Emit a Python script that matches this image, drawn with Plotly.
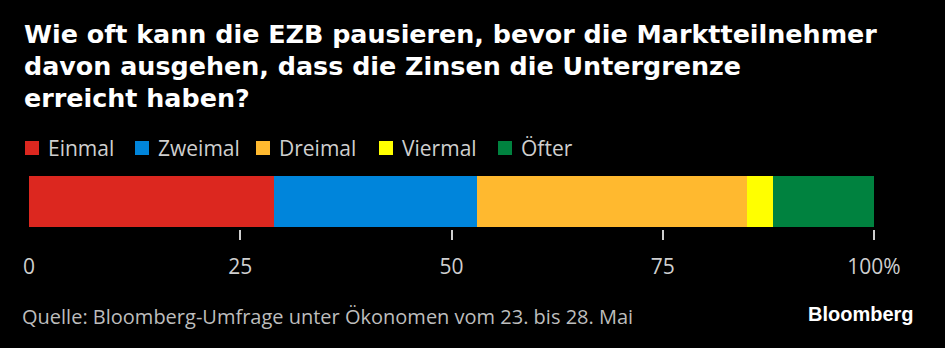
import plotly.graph_objects as go

# Survey answers (share of economists, %)
categories = ["Einmal", "Zweimal", "Dreimal", "Viermal", "Öfter"]
shares = [29, 24, 32, 3, 12]
colors = ["#dc271f", "#0085db", "#ffb92f", "#ffff00", "#00823f"]

tick_values = [0, 25, 50, 75, 100]
tick_labels = ["0", "25", "50", "75", "100%"]

title_lines = [
    "Wie oft kann die EZB pausieren, bevor die Marktteilnehmer",
    "davon ausgehen, dass die Zinsen die Untergrenze",
    "erreicht haben?",
]
source_text = "Quelle: Bloomberg-Umfrage unter Ökonomen vom 23. bis 28. Mai"
brand_text = "Bloomberg"

# Canvas and plot-area geometry (pixels)
W, H = 945, 348
ML, MR, MT, MB = 29, 71, 176, 119
PW, PH = W - ML - MR, H - MT - MB

# Legend item left edges (pixels)
legend_x = [25, 135, 256, 379, 498]
legend_y = 148

FONT = "Open Sans, Noto Sans, sans-serif"
GREY = "#cfcfcf"


def px(x):
    return (x - ML) / PW


def py(y):
    return (H - MB - y) / PH


fig = go.Figure()
for name, val, col in zip(categories, shares, colors):
    fig.add_trace(go.Bar(
        x=[val], y=[""], orientation="h", name=name,
        marker=dict(color=col, line=dict(width=0)),
        width=1, showlegend=False, hoverinfo="x+name",
    ))

fig.update_layout(
    width=W, height=H,
    margin=dict(l=ML, r=MR, t=MT, b=MB, pad=0),
    paper_bgcolor="black", plot_bgcolor="black",
    barmode="stack", bargap=0,
    xaxis=dict(
        range=[0, 100], tickvals=tick_values[1:], ticks="outside",
        ticklen=10, tickwidth=1.5, tickcolor=GREY,
        showticklabels=False, showgrid=False, zeroline=False, showline=False,
        fixedrange=True,
    ),
    xaxis2=dict(
        range=[0, 100], overlaying="x", side="bottom", anchor="y",
        tickvals=tick_values, ticktext=tick_labels, ticks="",
        ticklabelstandoff=23,
        tickfont=dict(family=FONT, size=21, color=GREY),
        showgrid=False, zeroline=False, showline=False, fixedrange=True,
    ),
    yaxis=dict(range=[-0.54, 0.5], visible=False, fixedrange=True),
    showlegend=False,
)

# invisible helper so the label axis is rendered
fig.add_trace(go.Scatter(x=[0, 100], y=[0, 0], xaxis="x2", mode="markers",
                         marker=dict(opacity=0), hoverinfo="skip",
                         showlegend=False))

# Title, one annotation per line
for i, line in enumerate(title_lines):
    fig.add_annotation(
        text=f"<b>{line}</b>", xref="paper", yref="paper",
        x=px(22), y=py(51 + 32 * i), xanchor="left", yanchor="bottom",
        showarrow=False, font=dict(family="DejaVu Sans", size=25.4, color="white"),
    )

# Legend: colored squares with labels
for name, col, lx in zip(categories, colors, legend_x):
    fig.add_shape(
        type="rect", xref="paper", yref="paper",
        x0=px(lx), x1=px(lx + 14), y0=py(legend_y - 7), y1=py(legend_y + 7),
        fillcolor=col, line=dict(width=0),
    )
    fig.add_annotation(
        text=name, xref="paper", yref="paper",
        x=px(lx + 21), y=py(legend_y), xanchor="left", yanchor="middle",
        showarrow=False, font=dict(family=FONT, size=21, color=GREY),
    )

# Footer
fig.add_annotation(
    text=source_text, xref="paper", yref="paper",
    x=px(20), y=py(316), xanchor="left", yanchor="middle",
    showarrow=False, font=dict(family=FONT, size=20, color="#bdbdbd"),
)
fig.add_annotation(
    text=f"<b>{brand_text}</b>", xref="paper", yref="paper",
    x=px(916), y=py(314), xanchor="right", yanchor="middle",
    showarrow=False, font=dict(family="Liberation Sans", size=20, color="white"),
)

fig.write_html("out.html")
